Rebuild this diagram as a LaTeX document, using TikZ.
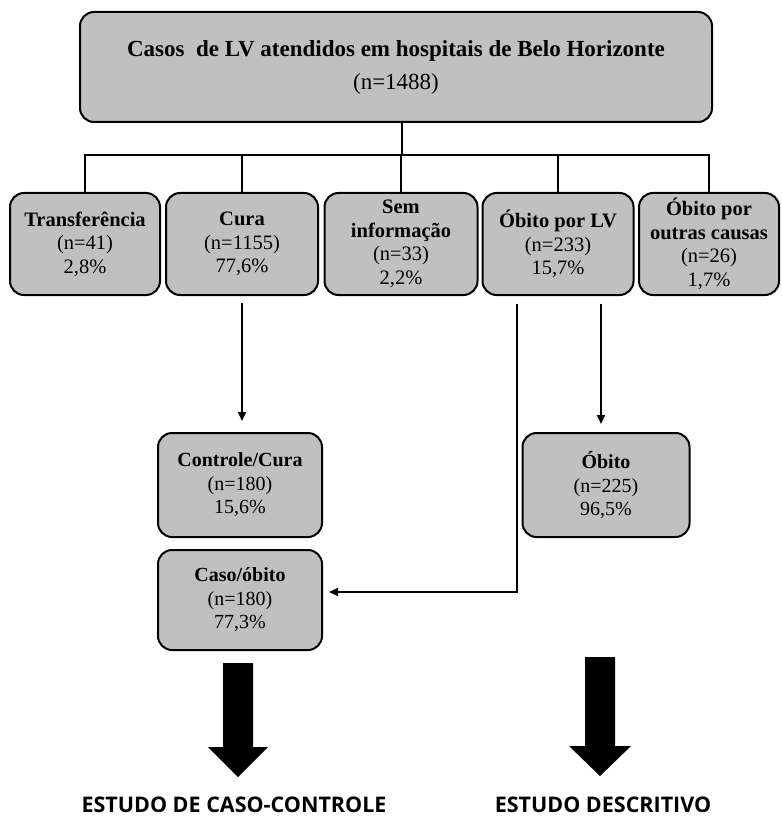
\documentclass[tikz,border=0pt]{standalone}
\usepackage{fontspec}
\setmainfont{Liberation Serif}
\newfontfamily\labelfont{Open Sans}
\usetikzlibrary{arrows.meta}
\definecolor{boxgray}{RGB}{192,192,192}
\begin{document}
\begin{tikzpicture}[x=1pt,y=-1pt,
  box/.style={draw=black, line width=2pt, fill=boxgray, rounded corners=14pt,
    inner sep=0pt, align=center, font=\fontsize{20}{23.5}\selectfont},
  rowbox/.style={box, minimum height=102pt, font=\fontsize{20.5}{23.5}\selectfont},
  conn/.style={line width=1.8pt},
  arr/.style={line width=1.8pt, -{Triangle[width=8pt,length=9pt]}},
  bigarrow/.style={fill=black},
  studylabel/.style={font=\labelfont\bfseries\fontsize{21.5}{24}\selectfont, inner sep=0pt}]
\useasboundingbox (0,0) rectangle (781,818);

\node[box, minimum width=632pt, minimum height=110pt, font=\fontsize{23}{33}\selectfont] (top) at (396,67)
  {\textbf{Casos\ \ de LV atendidos em hospitais de Belo Horizonte}\\(n=1488)};

\node[rowbox, minimum width=150pt] (b1) at (85,244)
  {\textbf{Transferência}\\(n=41)\\2,8\%};
\node[rowbox, minimum width=152pt] (b2) at (242,244)
  {\textbf{Cura}\\(n=1155)\\77,6\%};
\node[rowbox, minimum width=153pt] (b3) at (401,244)
  {\textbf{Sem}\\\textbf{informação}\\(n=33)\\2,2\%};
\node[rowbox, minimum width=151pt] (b4) at (558,244)
  {\textbf{Óbito por LV}\\(n=233)\\15,7\%};
\node[rowbox, minimum width=140pt] (b5) at (709,244)
  {\textbf{Óbito por}\\\textbf{outras causas}\\(n=26)\\1,7\%};

\node[box, minimum width=164pt, minimum height=104pt] (cc) at (240,485)
  {\textbf{Controle/Cura}\\(n=180)\\15,6\%};
\node[box, minimum width=164pt, minimum height=100pt] (co) at (240,600)
  {\textbf{Caso/óbito}\\(n=180)\\77,3\%};
\node[box, minimum width=167pt, minimum height=104pt] (ob) at (606,485)
  {\textbf{Óbito}\\(n=225)\\96,5\%};

\coordinate (j) at (402,155);
\draw[conn] (j |- top.south) -- (j);
\draw[conn] (b1.north) -- (b1.north |- j) -- (b5.north |- j) -- (b5.north);
\draw[conn] (b2.north) -- (b2.north |- j);
\draw[conn] (b3.north) -- (b3.north |- j);
\draw[conn] (b4.north) -- (b4.north |- j);

\draw[arr] ([yshift=-7pt]b2.south) -- ([yshift=11pt]b2.south |- cc.north);
\draw[arr] ([xshift=-41pt,yshift=-8pt]b4.south) |- ([xshift=6pt,yshift=8pt]co.east);
\draw[arr] ([xshift=43pt,yshift=-8pt]b4.south) -- ([xshift=43pt,yshift=8pt]b4.south |- ob.north);

\fill[bigarrow] (223,663) -- (253,663) -- (253,747) -- (268,747) -- (238,777) -- (208,747) -- (223,747) -- cycle;
\fill[bigarrow] (585,657) -- (615,657) -- (615,746) -- (631,746) -- (600,776) -- (569,746) -- (585,746) -- cycle;

\node[studylabel] (l1) at (234,805) {ESTUDO DE CASO-CONTROLE};
\node[studylabel] (l2) at (603,805) {ESTUDO DESCRITIVO};
\end{tikzpicture}
\end{document}
